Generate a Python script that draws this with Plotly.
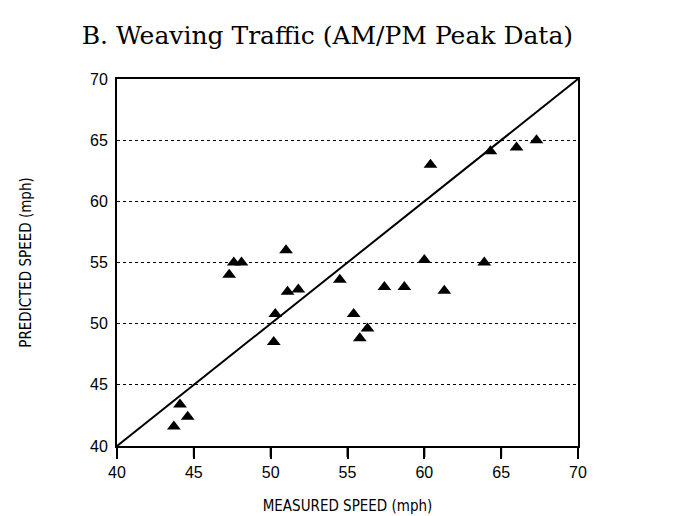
import plotly.graph_objects as go

measured = [43.7, 44.1, 44.6, 47.3, 47.6, 48.1, 50.2, 50.3, 51.0, 51.1, 51.8,
            54.5, 55.4, 55.8, 56.3, 57.4, 58.7, 60.0, 60.4, 61.3, 63.9, 64.3, 66.0, 67.3]
predicted = [41.6, 43.4, 42.4, 54.0, 55.0, 55.0, 48.5, 50.8, 56.0, 52.6, 52.8,
             53.6, 50.8, 48.8, 49.6, 53.0, 53.0, 55.2, 63.0, 52.7, 55.0, 64.1, 64.4, 65.0]
line_x = [40, 70]
line_y = [40, 70]
ticks = [40, 45, 50, 55, 60, 65, 70]
x_range = [40, 70]
y_range = [40, 70]

fig = go.Figure()
fig.add_trace(go.Scatter(x=line_x, y=line_y, mode="lines",
                         line=dict(color="black", width=2), hoverinfo="skip"))
fig.add_trace(go.Scatter(x=measured, y=predicted, mode="markers",
                         marker=dict(symbol="triangle-up", size=12, color="black")))

# outside tick marks on the x axis (paper coordinates derived from the axis range)
plot_h = 516 - 79 - 70
for t in ticks:
    px = (t - x_range[0]) / (x_range[1] - x_range[0])
    fig.add_shape(type="line", xref="paper", yref="paper", x0=px, x1=px,
                  y0=0, y1=-11 / plot_h, layer="above",
                  line=dict(color="black", width=2))

axis_font = dict(family="Liberation Sans, Arial, sans-serif", size=16, color="black")
label_font = dict(family="DejaVu Sans Condensed, Liberation Sans Narrow, Liberation Sans, sans-serif",
                  size=15, color="black")
fig.update_layout(
    width=675, height=516,
    margin=dict(l=117, r=97, t=79, b=70),
    paper_bgcolor="white", plot_bgcolor="white",
    showlegend=False,
    title=dict(text="B. Weaving Traffic (AM/PM Peak Data)",
               font=dict(family="DejaVu Serif, Liberation Serif, serif", size=25, color="black"),
               x=0.485, xanchor="center", y=0.932, yanchor="middle"),
    xaxis=dict(range=x_range, tickmode="array", tickvals=ticks, showgrid=False, zeroline=False,
               showline=True, linecolor="#000000", linewidth=2, mirror=True,
               ticks="outside", ticklen=11, tickwidth=2, tickcolor="#000000",
               tickfont=axis_font, automargin=False,
               title=dict(text="MEASURED SPEED (mph)", standoff=20, font=label_font)),
    yaxis=dict(range=y_range, tickmode="array", tickvals=ticks, showgrid=True, gridcolor="black",
               griddash="dot", gridwidth=1, zeroline=False,
               showline=True, linecolor="#000000", linewidth=2, mirror=True,
               ticks="", tickfont=axis_font, ticklabelstandoff=4, automargin=False,
               title=dict(text="PREDICTED SPEED (mph)", standoff=55, font=label_font)),
)

fig.write_html("out.html")
